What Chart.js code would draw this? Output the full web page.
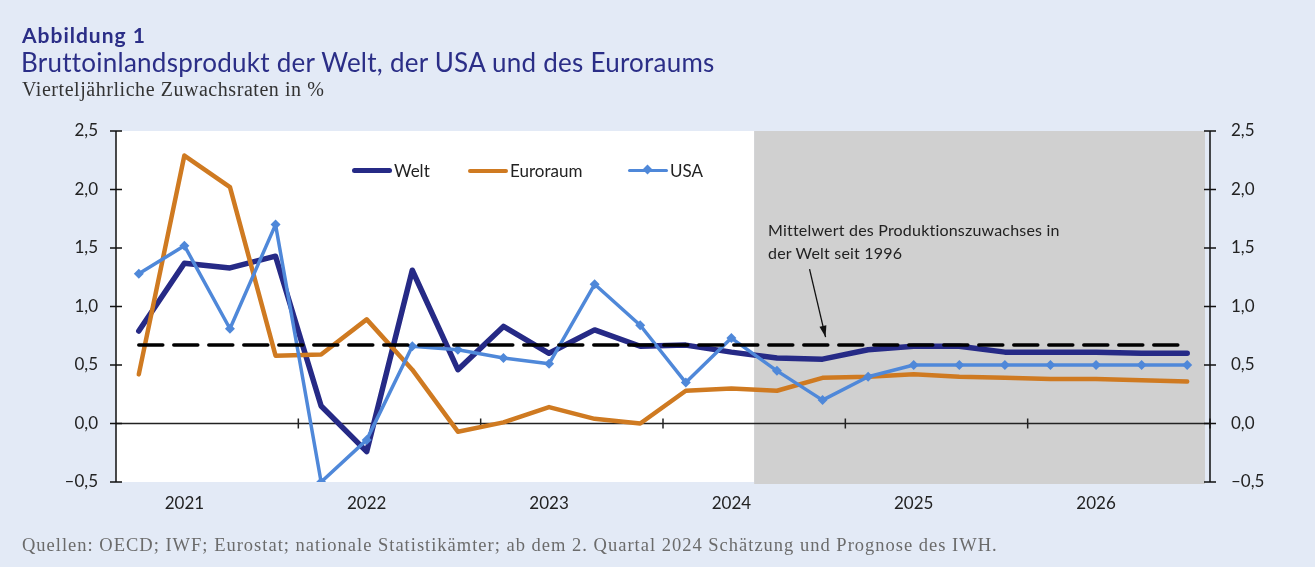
<!DOCTYPE html>
<html lang="de">
<head>
<meta charset="utf-8">
<script src="https://cdn.jsdelivr.net/npm/chart.js@4/dist/chart.umd.min.js"></script>
<style>
  html, body { margin:0; padding:0; }
  body { width:1315px; height:567px; background:#E3EAF6; position:relative; overflow:hidden; font-family:"Lato", "DejaVu Sans", sans-serif; }
  #c { position:absolute; left:0; top:0; }
  .t1 { position:absolute; left:22px; top:22px; font-size:21px; font-weight:bold; color:#2B2E87; letter-spacing:1.0px; }
  .t2 { position:absolute; left:21px; top:46px; font-size:26px; color:#2B2E87; letter-spacing:0.25px; }
  .t3 { position:absolute; left:22px; top:78px; font-family:"Liberation Serif", serif; font-size:20px; color:#333; letter-spacing:0.55px; }
  .src { position:absolute; left:22px; top:535px; font-family:"Liberation Serif", serif; font-size:18.5px; color:#6b6b6b; letter-spacing:1.0px; }
  .legend { position:absolute; top:160px; font-size:17px; color:#222; display:flex; align-items:center; }
  .legend .ln { display:inline-block; width:40px; border-radius:3px; margin-right:2px; position:relative; }
  .legend .dm { position:absolute; left:16px; top:-3.5px; width:7px; height:7px; background:#4F88D9; transform:rotate(45deg); }
  .note { position:absolute; left:768px; top:218px; font-size:16px; line-height:23px; color:#222; letter-spacing:0.2px; }
</style>
</head>
<body>
<canvas id="c" width="1315" height="567"></canvas>
<div class="t1">Abbildung 1</div>
<div class="t2">Bruttoinlandsprodukt der Welt, der USA und des Euroraums</div>
<div class="t3">Vierteljährliche Zuwachsraten in %</div>
<div class="legend" style="left:352px"><span class="ln" style="height:5px;background:#262A86"></span>Welt</div>
<div class="legend" style="left:468px"><span class="ln" style="height:4px;background:#CF7A21"></span>Euroraum</div>
<div class="legend" style="left:628px"><span class="ln" style="height:3px;background:#4F88D9"><span class="dm"></span></span>USA</div>
<div class="note">Mittelwert des Produktionszuwachses in<br>der Welt seit 1996</div>
<div class="src">Quellen: OECD; IWF; Eurostat; nationale Statistikämter; ab dem 2. Quartal 2024 Schätzung und Prognose des IWH.</div>
<script>
const quarters = ["2020 Q4","2021 Q1","2021 Q2","2021 Q3","2021 Q4","2022 Q1","2022 Q2","2022 Q3",
  "2022 Q4","2023 Q1","2023 Q2","2023 Q3","2023 Q4","2024 Q1","2024 Q2","2024 Q3",
  "2024 Q4","2025 Q1","2025 Q2","2025 Q3","2025 Q4","2026 Q1","2026 Q2","2026 Q3"];
const yearLabels = ["2021","2022","2023","2024","2025","2026"];
const welt = [0.79,1.37,1.33,1.43,0.15,-0.24,1.31,0.46,0.83,0.60,0.80,0.66,0.67,0.61,0.56,0.55,0.63,0.66,0.66,0.61,0.61,0.61,0.60,0.60];
const euroraum = [0.42,2.29,2.02,0.58,0.59,0.89,0.46,-0.07,0.01,0.14,0.04,0.00,0.28,0.30,0.28,0.39,0.40,0.42,0.40,0.39,0.38,0.38,0.37,0.36];
const usa = [1.28,1.52,0.81,1.70,-0.50,-0.14,0.66,0.63,0.56,0.51,1.19,0.84,0.35,0.73,0.45,0.20,0.40,0.50,0.50,0.50,0.50,0.50,0.50,0.50];
const mittelwert = [0.67,0.67,0.67,0.67,0.67,0.67,0.67,0.67,0.67,0.67,0.67,0.67,0.67,0.67,0.67,0.67,0.67,0.67,0.67,0.67,0.67,0.67,0.67,0.67];
const yTicks = [-0.5,0,0.5,1.0,1.5,2.0,2.5];
const forecastStartIndex = 14; // 2024 Q2

const fmt = v => (v < 0 ? "\u2013" : "") + Math.abs(v).toFixed(1).replace(".", ",");

const decor = {
  id: "decor",
  beforeDatasetsDraw(chart) {
    const {ctx, chartArea: a, scales: {x, y}} = chart;
    const split = (x.getPixelForValue(forecastStartIndex - 1) + x.getPixelForValue(forecastStartIndex)) / 2;
    ctx.save();
    ctx.fillStyle = "#FFFFFF";
    ctx.fillRect(a.left, a.top, split - a.left, a.bottom - a.top);
    ctx.fillStyle = "#D0D0D0";
    ctx.fillRect(split, a.top, a.right - 5 - split, a.bottom + 2 - a.top);
    const y0 = y.getPixelForValue(0);
    ctx.strokeStyle = "#222";
    ctx.lineWidth = 1.5;
    ctx.beginPath();
    ctx.moveTo(a.left, y0); ctx.lineTo(a.right, y0);
    const half = (x.getPixelForValue(1) - x.getPixelForValue(0)) / 2;
    for (let i = 4; i <= quarters.length; i += 4) {
      const px = x.getPixelForValue(i) - half;
      ctx.moveTo(px, y0 - 5); ctx.lineTo(px, y0 + 5);
    }
    ctx.stroke();
    ctx.restore();
  },
  afterDraw(chart) {
    const {ctx, chartArea: a, scales: {x, y}} = chart;
    ctx.save();
    ctx.strokeStyle = "#111";
    ctx.lineWidth = 1.5;
    ctx.beginPath();
    ctx.moveTo(a.left, a.top); ctx.lineTo(a.left, a.bottom);
    ctx.moveTo(a.right, a.top); ctx.lineTo(a.right, a.bottom);
    yTicks.forEach(v => {
      const py = y.getPixelForValue(v);
      ctx.moveTo(a.left - 6, py); ctx.lineTo(a.left + 6, py);
      ctx.moveTo(a.right - 6, py); ctx.lineTo(a.right + 6, py);
    });
    ctx.stroke();
    const tx = x.getPixelForValue(15) + 3;
    const ty = y.getPixelForValue(mittelwert[15]) - 8;
    const sx = tx - 16, sy = ty - 68;
    ctx.lineWidth = 1.3;
    ctx.beginPath();
    ctx.moveTo(sx, sy); ctx.lineTo(tx, ty);
    ctx.stroke();
    const ang = Math.atan2(ty - sy, tx - sx);
    ctx.fillStyle = "#111";
    ctx.beginPath();
    ctx.moveTo(tx, ty);
    ctx.lineTo(tx - 12 * Math.cos(ang - 0.3), ty - 12 * Math.sin(ang - 0.3));
    ctx.lineTo(tx - 12 * Math.cos(ang + 0.3), ty - 12 * Math.sin(ang + 0.3));
    ctx.closePath();
    ctx.fill();
    ctx.restore();
  }
};

new Chart(document.getElementById("c"), {
  type: "line",
  data: {
    labels: quarters,
    datasets: [
      { label: "Mittelwert", data: mittelwert, borderColor: "#000", borderWidth: 3.5, borderDash: [24, 11], pointRadius: 0, order: 0 },
      { label: "USA", data: usa, borderColor: "#4F88D9", backgroundColor: "#4F88D9", borderWidth: 3.5, pointStyle: "rectRot", pointRadius: 5, pointBorderWidth: 0, order: 1 },
      { label: "Euroraum", data: euroraum, borderColor: "#CF7A21", borderWidth: 4.5, pointRadius: 0, order: 2 },
      { label: "Welt", data: welt, borderColor: "#262A86", borderWidth: 5.5, pointRadius: 0, order: 3 }
    ]
  },
  options: {
    responsive: false,
    animation: false,
    events: [],
    layout: { padding: { left: 0, right: 0, top: 131, bottom: 0 } },
    elements: { line: { tension: 0, borderJoinStyle: "round", borderCapStyle: "round" } },
    plugins: { legend: { display: false }, tooltip: { enabled: false } },
    scales: {
      x: {
        offset: true,
        grid: { display: false, drawTicks: false },
        border: { display: false },
        ticks: {
          autoSkip: false, maxRotation: 0, padding: 11, color: "#222",
          font: { family: "Lato", size: 17 },
          callback: (v, i) => (i % 4 === 1 ? yearLabels[Math.floor(i / 4)] : "")
        },
        afterFit: s => { s.height = 567 - 482; }
      },
      y: {
        position: "left", min: -0.5, max: 2.5,
        grid: { display: false, drawTicks: false },
        border: { display: false },
        ticks: { stepSize: 0.5, padding: 18, color: "#222", font: { family: "Lato", size: 17 }, callback: v => fmt(v) },
        afterFit: s => { s.width = 116; }
      },
      y2: {
        position: "right", min: -0.5, max: 2.5,
        grid: { display: false, drawTicks: false },
        border: { display: false },
        ticks: { stepSize: 0.5, padding: 21, color: "#222", font: { family: "Lato", size: 17 }, callback: v => fmt(v) },
        afterFit: s => { s.width = 1315 - 1210; }
      }
    }
  },
  plugins: [decor]
});
</script>
</body>
</html>
